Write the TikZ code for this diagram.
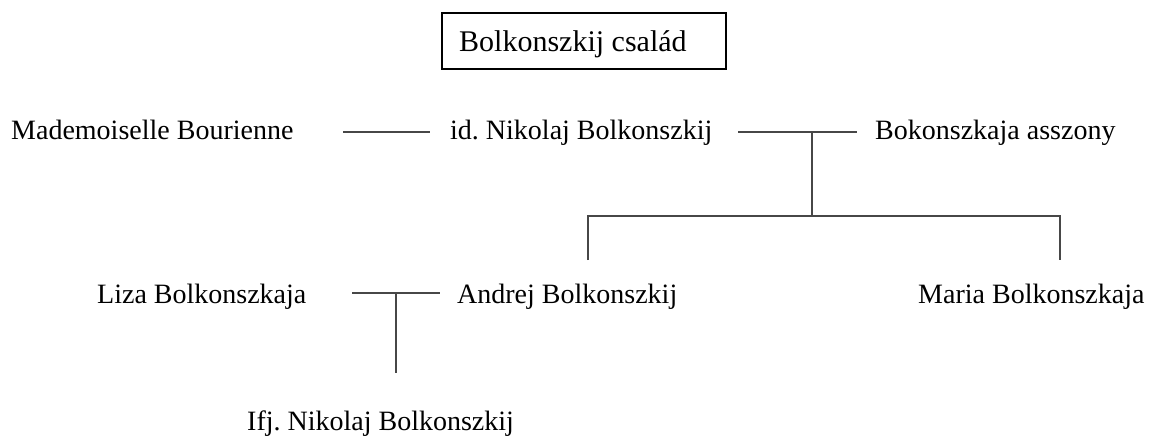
\documentclass[tikz,border=0pt]{standalone}
\usepackage{fontspec}
\setmainfont{Liberation Serif}
\frenchspacing
\begin{document}
\begin{tikzpicture}[x=1pt,y=-1pt,
  person/.style={anchor=base west,inner sep=0pt,font=\fontsize{28}{30}\selectfont},
  link/.style={draw=black!72,line width=1.3pt},
  titlebox/.style={draw=black,line width=2pt,minimum width=284pt,minimum height=56pt,inner sep=0pt}]
\useasboundingbox (0,0) rectangle (1151,439);
\node[titlebox] (title) at (584,41) {};
\node[anchor=base west,inner sep=0pt,font=\fontsize{30}{32}\selectfont] (titletext) at (459,51) {Bolkonszkij család};
\node[person] (mb) at (11,139) {Mademoiselle Bourienne};
\node[person] (nik) at (450,139) {id. Nikolaj Bolkonszkij};
\node[person] (bok) at (875,139) {Bokonszkaja asszony};
\node[person] (liza) at (97,303) {Liza Bolkonszkaja};
\node[person] (andrej) at (457,303) {Andrej Bolkonszkij};
\node[person] (maria) at (918,303) {Maria Bolkonszkaja};
\node[person] (ifj) at (247,430) {Ifj. Nikolaj Bolkonszkij};
\coordinate (mbR) at (343,132);
\coordinate (nikL) at (430,132);
\coordinate (nikR) at (738,132);
\coordinate (bokL) at (857,132);
\coordinate (j1) at (812,132);
\coordinate (j2) at (812,216);
\coordinate (bl) at (588,216);
\coordinate (br) at (1060,216);
\coordinate (andrejT) at (588,260);
\coordinate (mariaT) at (1060,260);
\coordinate (lizaR) at (352,293);
\coordinate (andrejL) at (440,293);
\coordinate (j3) at (396,293);
\coordinate (ifjT) at (396,373);
\draw[link] (mbR) -- (nikL);
\draw[link] (nikR) -- (bokL);
\draw[link] (j1) -- (j2);
\draw[link] (andrejT) -- (bl) -- (br) -- (mariaT);
\draw[link] (lizaR) -- (andrejL);
\draw[link] (j3) -- (ifjT);
\end{tikzpicture}
\end{document}
